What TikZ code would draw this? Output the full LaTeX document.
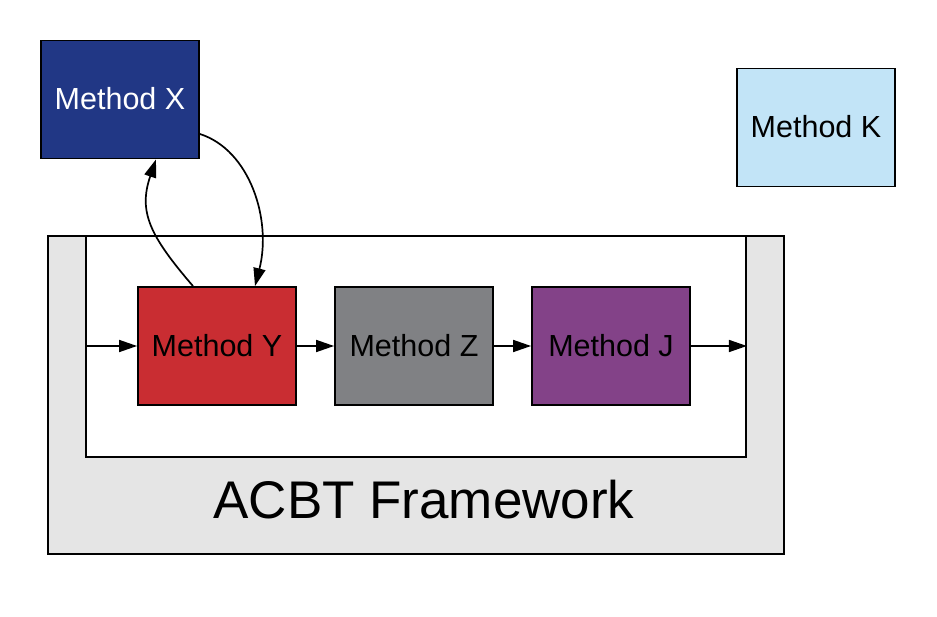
\documentclass[tikz,border=0pt]{standalone}
\usepackage{fontspec}
\setmainfont{Liberation Sans}
\usetikzlibrary{arrows.meta}
\definecolor{cX}{HTML}{213785}
\definecolor{cY}{HTML}{C92D32}
\definecolor{cZ}{HTML}{808184}
\definecolor{cJ}{HTML}{834288}
\definecolor{cK}{HTML}{C2E4F7}
\definecolor{cF}{HTML}{E5E5E5}
\tikzset{
  method/.style={draw=black, line width=1.8pt, minimum width=158pt, minimum height=118pt,
    inner sep=0pt, font=\fontsize{30.5}{33}\selectfont, text=black},
  conn/.style={line width=1.7pt, -{Triangle[length=18pt,width=12pt]}},
  frame/.style={draw=black, line width=1.8pt, inner sep=0pt},
}
\begin{document}
\begin{tikzpicture}[x=1pt,y=-1pt]
\useasboundingbox (0,0) rectangle (937,617);
\node[frame, fill=cF, minimum width=736pt, minimum height=318pt] (fw) at (416,395) {};
\node[frame, fill=white, minimum width=660pt, minimum height=221pt] (inner) at (416,346.5) {};
\node[font=\fontsize{53}{60}\selectfont] (fwlabel) at (424,500) {ACBT Framework};
\node[method, fill=cX, text=white] (X) at (120,99.5) {\raisebox{2pt}{Method X}};
\node[method, fill=cK] (K) at (816,127.5) {\raisebox{2pt}{Method K}};
\node[method, fill=cY] (Y) at (217,346) {\raisebox{2pt}{Method Y}};
\node[method, fill=cZ] (Z) at (414,346) {\raisebox{2pt}{Method Z}};
\node[method, fill=cJ] (J) at (611,346) {\raisebox{2pt}{Method J}};
\draw[conn] (Y.west -| inner.west) -- (Y.west);
\draw[conn] (Y) -- (Z);
\draw[conn] (Z) -- (J);
\draw[conn] (J.east) -- (J.east -| inner.east);
\draw[conn] ([yshift=-34.5pt]X.east) .. controls (250,150) and (272,220) .. ([xshift=38pt]Y.north);
\draw[conn] ([xshift=-24pt]Y.north) .. controls (150,236) and (138,212) .. ([xshift=36pt]X.south);
\end{tikzpicture}
\end{document}
